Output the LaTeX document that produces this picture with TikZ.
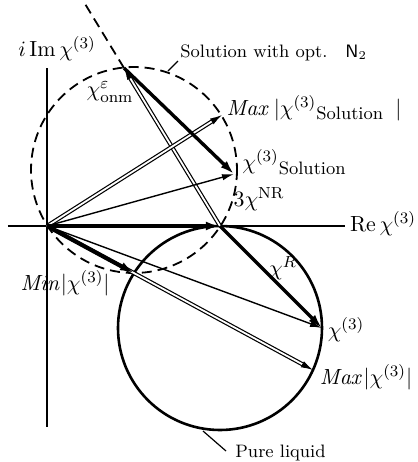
\documentclass[tikz,border=0pt]{standalone}
\usepackage{amsmath,amssymb}
\usetikzlibrary{arrows.meta,calc}

\tikzset{
  axis/.style={line width=0.8pt},
  vthin/.style={line width=0.7pt,-{Latex[length=6pt,width=3.2pt]}},
  vthick/.style={line width=1.7pt,-{Latex[length=7pt,width=4.4pt]}},
  vdbl/.style={double,line width=0.6pt,double distance=0.9pt,shorten >=4pt},
  vtip/.style={line width=0.6pt,-{Latex[length=6pt,width=3.4pt]}},
  soln/.style={dash pattern=on 5pt off 3pt,line width=0.9pt},
  pure/.style={line width=1.3pt},
  lead/.style={line width=0.6pt},
  lbl/.style={inner sep=0pt,font=\fontsize{11}{13}\selectfont},
}

\begin{document}
\begin{tikzpicture}[x=0.5pt,y=-0.5pt]
  \useasboundingbox (0,0) rectangle (418,462);
  % points of the diagram (pixel grid, y down)
  \coordinate (O) at (47,226);
  \coordinate (NR) at (220,226);
  \coordinate (E) at (124,68);
  \coordinate (Xs) at (234,174);
  \coordinate (MaxS) at (222,115);
  \coordinate (X) at (322,328);
  \coordinate (MinL) at (134,273);
  \coordinate (MaxL) at (313,370);
  \coordinate (ytop) at (47,68);
  \coordinate (ybot) at (47,427);
  \coordinate (xlft) at (8,226);
  \coordinate (xrgt) at (345,226);
  % axes
  \draw[axis] (ytop) -- (ybot);
  \draw[axis] (xlft) -- (xrgt);
  % solution circle (dashed) and pure liquid circle
  \draw[soln] (134,170) circle[radius=103];
  \draw[pure] (220,328) circle[radius=102];
  \draw[soln] ($(NR)!1.4!(E)$) -- (E);
  % vectors
  \draw[vdbl] (NR) -- (E);
  \draw[vtip] ($(E)!6pt!(NR)$) -- (E);
  \draw[vdbl] (O) -- (MaxS);
  \draw[vtip] ($(MaxS)!6pt!(O)$) -- (MaxS);
  \draw[vdbl] (O) -- (MaxL);
  \draw[vtip] ($(MaxL)!6pt!(O)$) -- (MaxL);
  \draw[vthin] (O) -- (Xs);
  \draw[vthin] (O) -- (X);
  \draw[vthick] (E) -- (Xs);
  \draw[vthick] (O) -- (NR);
  \draw[vthick] (NR) -- (X);
  \draw[vthick] (O) -- (MinL);
  % labels
  \node[lbl] (imlab) at (57,49) {$i\,\mathrm{Im}\,\chi^{(3)}$};
  \node[lbl] (relab) at (383,224) {$\mathrm{Re}\,\chi^{(3)}$};
  \node[lbl,anchor=west] (sol) at (180,53) {\small Solution with opt.\quad$\mathsf{N}_2$};
  \node[lbl] (maxslab) at (314,108)
    {$\mathit{Max}\,|\chi^{(3)}$\raisebox{-0.5ex}{\small Solution}\;\;$|$};
  \node[lbl] (xslab) at (294,162) {$\chi^{(3)}$\raisebox{-0.5ex}{\small Solution}};
  \node[lbl] (nrlab) at (259,199) {$3\chi^{\mathrm{NR}}$};
  \node[lbl] (epslab) at (110,92) {$\chi^{\varepsilon}_{\mathrm{onm}}$};
  \node[lbl] (rlab) at (283,268) {$\chi^{R}$};
  \node[lbl] (xlab) at (346,330) {$\chi^{(3)}$};
  \node[lbl] (maxllab) at (366,377) {$\mathit{Max}|\chi^{(3)}|$};
  \node[lbl] (minlab) at (65,283) {$\mathit{Min}|\chi^{(3)}|$};
  \node[lbl,anchor=west] (purelab) at (235,453) {\small Pure liquid};
  % leaders
  \coordinate (solA) at (168,71);
  \coordinate (solB) at (178,61);
  \draw[lead] (solA) -- (solB);
  \coordinate (purA) at (203,431);
  \coordinate (purB) at (226,451);
  \draw[lead] (purA) -- (purB);
\end{tikzpicture}
\end{document}
